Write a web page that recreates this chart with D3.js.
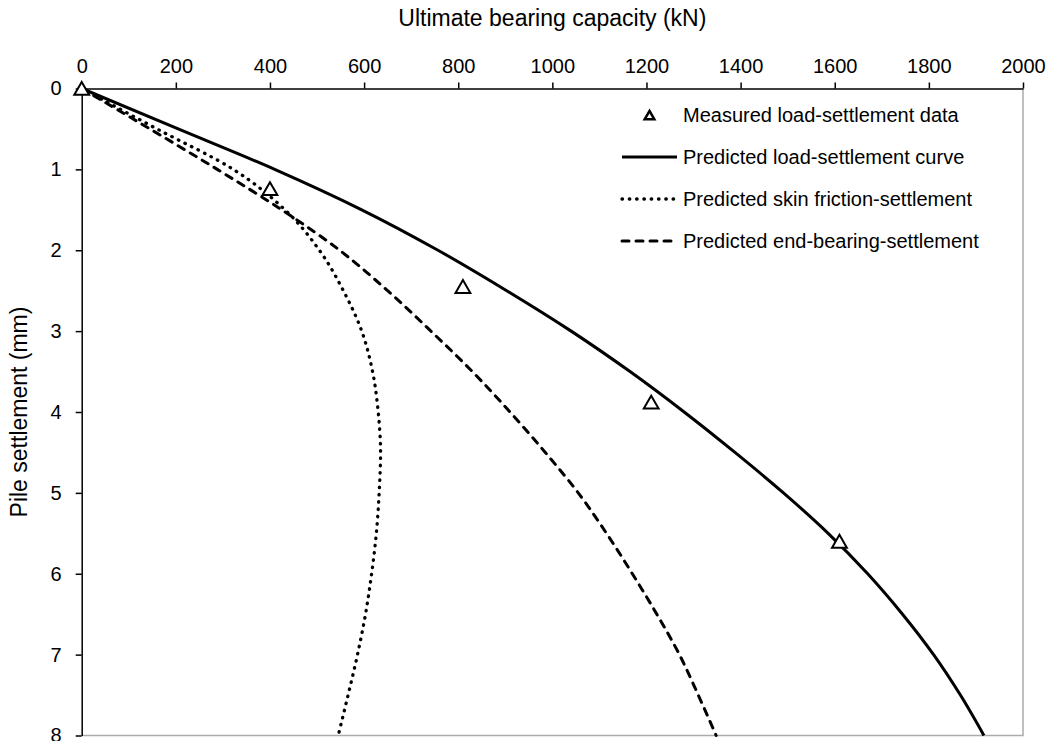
<!DOCTYPE html>
<html>

<head>
    <title>Load-settlement</title>
    <script src="https://d3js.org/d3.v7.min.js"></script>
    <style>
        body { margin: 0; background: #fff; }
        text { font-family: "Liberation Sans", Arial, sans-serif; fill: #000; }
    </style>
</head>

<body>

    <svg width="1050" height="741" id="mainSvg"></svg>
    <script>
        // ---- data ----
        const loadTicks = [0, 200, 400, 600, 800, 1000, 1200, 1400, 1600, 1800, 2000];
        const settlementTicks = [0, 1, 2, 3, 4, 5, 6, 7, 8];

        // measured points (kN, mm)
        const measuredLoad = [0, 400, 810, 1210, 1610];
        const measuredSettlement = [0, 1.24, 2.45, 3.88, 5.6];

        // predicted curves, sampled on settlement (mm)
        const curveSettlement = [0, 0.5, 1, 1.5, 2, 2.5, 3, 3.5, 4, 4.5, 5, 5.5, 6, 6.5, 7, 7.5, 8];
        const totalLoad = [0, 205, 410, 595, 757, 903, 1040, 1165, 1280, 1388, 1491, 1586, 1670, 1744, 1810, 1867, 1917];
        const skinLoad = [0, 160, 322, 432, 505, 556, 595, 618, 630, 635, 632, 626, 616, 603, 586, 566, 545];
        const baseLoad = [0, 145, 288, 425, 548, 650, 742, 830, 910, 985, 1055, 1115, 1170, 1222, 1270, 1310, 1348];

        const legendLabels = [
            "Measured load-settlement data",
            "Predicted load-settlement curve",
            "Predicted skin friction-settlement",
            "Predicted end-bearing-settlement"
        ];

        const mainSvg = d3.select("#mainSvg");
        const margin = { top: 88.5, left: 81.7 };
        const innerWidth = 1023 - margin.left;
        const innerHeight = 735.5 - margin.top;

        const g = mainSvg.append("g")
            .attr("transform", `translate(${margin.left}, ${margin.top})`);

        const x = d3.scaleLinear().domain([0, 2000]).range([0, innerWidth]);
        const y = d3.scaleLinear().domain([0, 8]).range([0, innerHeight]);

        // plot border (right + bottom, grey)
        g.append("path")
            .attr("d", `M${innerWidth},0V${innerHeight}H0`)
            .attr("fill", "none")
            .attr("stroke", "#ababab")
            .attr("stroke-width", 1.5);

        // axes
        const xAxis = g.append("g")
            .call(d3.axisTop(x).tickValues(loadTicks).tickFormat(d3.format("d"))
                .tickSize(6).tickSizeOuter(0).tickPadding(10));
        const yAxis = g.append("g")
            .call(d3.axisLeft(y).tickValues(settlementTicks).tickFormat(d3.format("d"))
                .tickSize(6).tickSizeOuter(0).tickPadding(14));

        [xAxis, yAxis].forEach(a => {
            a.selectAll("path.domain").attr("stroke", "#000").attr("stroke-width", 1.5);
            a.selectAll(".tick line").attr("stroke", "#000").attr("stroke-width", 1.5);
            a.selectAll(".tick text")
                .attr("font-size", 20)
                .attr("font-family", "Liberation Sans, Arial, sans-serif")
                .attr("fill", "#000");
        });

        // axis titles
        mainSvg.append("text")
            .attr("x", margin.left + innerWidth / 2)
            .attr("y", 26)
            .attr("text-anchor", "middle")
            .attr("font-size", 23)
            .text("Ultimate bearing capacity (kN)");

        mainSvg.append("text")
            .attr("transform", `translate(27, ${margin.top + innerHeight / 2}) rotate(-90)`)
            .attr("text-anchor", "middle")
            .attr("font-size", 23)
            .text("Pile settlement (mm)");

        // curves
        const series = [
            { loads: totalLoad, dash: null, cap: "butt", w: 3 },
            { loads: skinLoad, dash: "0.5,6.8", cap: "round", w: 3.3 },
            { loads: baseLoad, dash: "7,7", cap: "round", w: 3 }
        ];

        const line = d3.line()
            .x(d => x(d[0]))
            .y(d => y(d[1]))
            .curve(d3.curveMonotoneY);

        series.forEach(s => {
            const pts = curveSettlement.map((v, i) => [s.loads[i], v]);
            g.append("path")
                .datum(pts)
                .attr("d", line)
                .attr("fill", "none")
                .attr("stroke", "#000")
                .attr("stroke-width", s.w)
                .attr("stroke-linecap", s.cap)
                .attr("stroke-dasharray", s.dash);
        });

        // measured triangles
        const tri = d3.symbol(d3.symbolTriangle, 95);
        g.selectAll(".measured")
            .data(measuredLoad.map((v, i) => [v, measuredSettlement[i]]))
            .join("path")
            .attr("class", "measured")
            .attr("d", tri)
            .attr("transform", d => `translate(${x(d[0])}, ${y(d[1]) + 2})`)
            .attr("fill", "#fff")
            .attr("stroke", "#000")
            .attr("stroke-width", 2);

        // legend
        const legend = mainSvg.append("g");
        const legendX0 = 622, legendX1 = 677, legendTop = 115, legendGap = 42;

        legendLabels.forEach((lab, i) => {
            const ly = legendTop + i * legendGap;
            if (i === 0) {
                legend.append("path")
                    .attr("d", d3.symbol(d3.symbolTriangle, 40))
                    .attr("transform", `translate(${(legendX0 + legendX1) / 2}, ${ly + 1.5})`)
                    .attr("fill", "#fff")
                    .attr("stroke", "#000")
                    .attr("stroke-width", 2.5);
            } else {
                const s = series[i - 1];
                legend.append("line")
                    .attr("x1", legendX0).attr("x2", legendX1)
                    .attr("y1", ly).attr("y2", ly)
                    .attr("stroke", "#000")
                    .attr("stroke-width", s.w)
                    .attr("stroke-linecap", s.cap)
                    .attr("stroke-dasharray", s.dash);
            }
            legend.append("text")
                .attr("x", 683)
                .attr("y", ly)
                .attr("dy", "0.35em")
                .attr("font-size", 20)
                .text(lab);
        });
    </script>
</body>

</html>
